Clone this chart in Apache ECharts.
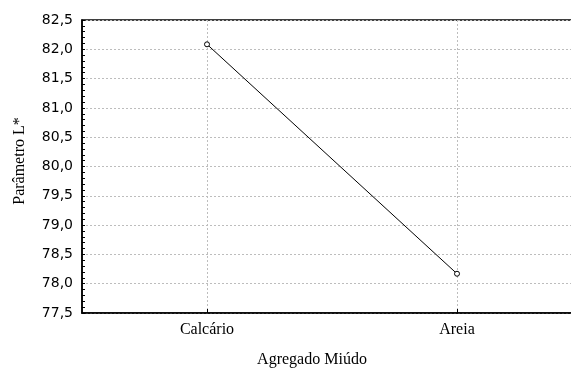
<!DOCTYPE html>
<html>
<head>
<meta charset="utf-8">
<script src="https://cdn.jsdelivr.net/npm/echarts@6/dist/echarts.min.js"></script>
<style>
  html, body { margin: 0; padding: 0; background: #fff; overflow: hidden; }
  #wrap { width: 571px; height: 370px; overflow: hidden; }
  /* plot frame runs past the right edge of the page, so the chart is wider than the view */
  #chart { width: 582px; height: 370px; }
</style>
</head>
<body>
<div id="wrap"><div id="chart"></div></div>
<script>
// Categories and mean L* values
const categories = ['Calcário', 'Areia'];
const lValues = [82.085, 78.17];

// Value-axis range and step
const yMin = 77.5;
const yMax = 82.5;
const yStep = 0.5;

const xTitle = 'Agregado Miúdo';
const yTitle = 'Parâmetro L*';

const chart = echarts.init(document.getElementById('chart'), null, { renderer: 'canvas' });

const gridDash = { color: '#bdbdbd', width: 1, type: [2, 2] };

chart.setOption({
  animation: false,
  backgroundColor: '#ffffff',
  grid: {
    left: 82, top: 20, bottom: 57, right: 0,
    show: true, borderColor: '#000', borderWidth: 1.5, backgroundColor: 'transparent'
  },
  xAxis: {
    type: 'category',
    data: categories,
    boundaryGap: true,
    axisLine: { show: true, lineStyle: { color: '#000', width: 1.5 } },
    axisTick: { show: true, inside: true, alignWithLabel: true, length: 4, lineStyle: { color: '#000' } },
    axisLabel: { fontFamily: 'Liberation Serif', fontSize: 16, color: '#000', margin: 9 },
    splitLine: { show: true, alignWithLabel: true, lineStyle: gridDash }
  },
  yAxis: {
    type: 'value',
    min: yMin, max: yMax, interval: yStep,
    axisLine: { show: true, lineStyle: { color: '#000', width: 1.5 } },
    axisTick: { show: true, inside: true, length: 3, lineStyle: { color: '#000' } },
    minorTick: { show: true, splitNumber: 5, length: 3, lineStyle: { color: '#000' } },
    axisLabel: {
      fontFamily: 'DejaVu Sans', fontSize: 14, color: '#000', margin: 9,
      formatter: v => v.toFixed(1).replace('.', ',')
    },
    splitLine: { show: true, lineStyle: gridDash }
  },
  graphic: [
    {
      type: 'text', x: 312, y: 360,
      style: { text: xTitle, font: '16px "Liberation Serif"', fill: '#000', align: 'center', verticalAlign: 'middle' }
    },
    {
      type: 'text', x: 20, y: 161, rotation: Math.PI / 2,
      style: { text: yTitle, font: '16px "Liberation Serif"', fill: '#000', align: 'center', verticalAlign: 'middle' }
    }
  ],
  series: [{
    type: 'line',
    data: lValues,
    symbol: 'circle',
    symbolSize: 5,
    lineStyle: { color: '#000', width: 1 },
    itemStyle: { color: '#fff', borderColor: '#000', borderWidth: 1 }
  }]
});
</script>
</body>
</html>
